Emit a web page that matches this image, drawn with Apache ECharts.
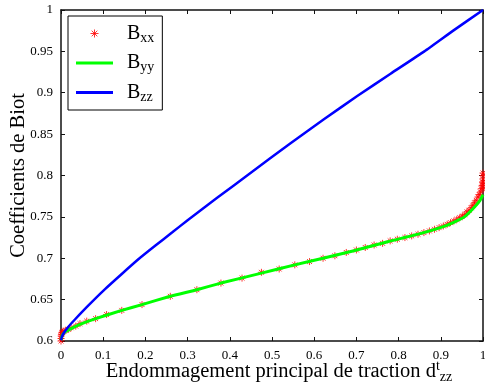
<!DOCTYPE html>
<html>

<head>
    <meta charset="UTF-8">
    <title>Coefficients de Biot</title>
    <script src="https://cdn.jsdelivr.net/npm/echarts@6/dist/echarts.min.js"></script>
    <style>
        html, body {
            margin: 0;
            padding: 0;
            background: #fff;
        }

        #chart {
            width: 485px;
            height: 391px;
        }
    </style>
</head>

<body>
    <div id="chart"></div>
</body>
<script>
    // Bxx (etoiles rouges)
    var dXX = [0, 0, 0.0005, 0.001, 0.002, 0.004, 0.007, 0.011, 0.017, 0.024, 0.035, 0.045, 0.061, 0.082,
        0.108, 0.144, 0.192, 0.259, 0.322, 0.379, 0.429, 0.475, 0.517, 0.554, 0.589, 0.621, 0.649, 0.676,
        0.700, 0.721, 0.742, 0.762, 0.780, 0.797, 0.815, 0.831, 0.846, 0.860, 0.873, 0.885, 0.896, 0.906,
        0.915, 0.923, 0.931, 0.938, 0.945, 0.951, 0.957, 0.962, 0.967, 0.972, 0.976, 0.980, 0.984, 0.988,
        0.991, 0.994, 0.996, 0.998, 0.999, 1, 1, 1, 1, 1, 1];
    var bxx = [0.600, 0.603, 0.606, 0.608, 0.610, 0.611, 0.612, 0.613, 0.614, 0.616, 0.618, 0.621, 0.624, 0.627,
        0.632, 0.637, 0.644, 0.654, 0.662, 0.670, 0.676, 0.683, 0.687, 0.692, 0.696, 0.700, 0.703, 0.707,
        0.710, 0.713, 0.716, 0.718, 0.721, 0.723, 0.725, 0.727, 0.729, 0.731, 0.733, 0.735, 0.737, 0.739,
        0.741, 0.743, 0.745, 0.747, 0.749, 0.751, 0.753, 0.756, 0.758, 0.761, 0.764, 0.767, 0.770, 0.774,
        0.777, 0.780, 0.784, 0.788, 0.792, 0.784, 0.788, 0.792, 0.796, 0.800, 0.803];

    // Byy (ligne verte)
    var dYY = [0, 0.003, 0.010, 0.024, 0.045, 0.082, 0.144, 0.192, 0.259, 0.322, 0.379, 0.475, 0.554,
        0.621, 0.694, 0.774, 0.853, 0.916, 0.956, 0.980, 0.993, 1];
    var byy = [0.601, 0.607, 0.611, 0.615, 0.620, 0.627, 0.637, 0.644, 0.654, 0.662, 0.670, 0.682, 0.692,
        0.700, 0.709, 0.720, 0.730, 0.740, 0.750, 0.762, 0.770, 0.777];

    // Bzz (ligne bleue)
    var dZZ = [0, 0.002, 0.007, 0.017, 0.033, 0.065, 0.105, 0.144, 0.184, 0.223, 0.263, 0.300, 0.370,
        0.449, 0.544, 0.623, 0.702, 0.781, 0.861, 0.932, 1];
    var bzz = [0.601, 0.605, 0.610, 0.617, 0.626, 0.643, 0.663, 0.681, 0.699, 0.715, 0.731, 0.746, 0.773,
        0.803, 0.839, 0.868, 0.896, 0.923, 0.950, 0.976, 1.0];

    function pairs(xs, ys) {
        var out = [];
        for (var i = 0; i < xs.length; i++) {
            out.push([xs[i], ys[i]]);
        }
        return out;
    }

    var starPath = 'path://M5,0L5,10M0,5L10,5M1.5,1.5L8.5,8.5M8.5,1.5L1.5,8.5';
    var barPath = 'path://M0,0L37,0L37,3L0,3Z';
    var serif = 'Liberation Serif';

    var subs = { Bxx: 'xx', Byy: 'yy', Bzz: 'zz' };

    var frameLine = { show: true, onZero: false, lineStyle: { color: '#111', width: 1.5 } };
    var frameTick = { show: true, inside: true, length: 4, lineStyle: { color: '#111', width: 1 } };
    var tickLabel = { color: '#000', fontFamily: serif, fontSize: 13 };

    var chart = echarts.init(document.getElementById('chart'));
    var option = {
        animation: false,
        backgroundColor: '#fff',
        grid: {
            left: 61,
            right: 2,
            top: 10,
            bottom: 50,
            outerBoundsMode: 'none',
            containLabel: false
        },
        legend: {
            left: 68,
            top: 16,
            orient: 'vertical',
            itemWidth: 37,
            itemHeight: 8,
            itemGap: 6.5,
            padding: [6, 8, 6, 8],
            borderColor: '#000',
            borderWidth: 1,
            backgroundColor: '#fff',
            symbolKeepAspect: true,
            data: [
                { name: 'Bxx', icon: starPath, itemStyle: { color: 'rgba(0,0,0,0)', borderColor: '#ff0000', borderWidth: 1 } },
                { name: 'Byy', icon: barPath, itemStyle: { color: '#00ff00', borderWidth: 0 } },
                { name: 'Bzz', icon: barPath, itemStyle: { color: '#0000ff', borderWidth: 0 } }
            ],
            formatter: function (name) {
                return '{b|B}{s|' + subs[name] + '}';
            },
            textStyle: {
                rich: {
                    b: { fontFamily: serif, fontSize: 20, color: '#000', lineHeight: 24, padding: [0, 0, 0, 9] },
                    s: { fontFamily: serif, fontSize: 14, color: '#000', lineHeight: 24, padding: [9, 0, 0, 0] }
                }
            }
        },
        xAxis: [{
            type: 'value',
            min: 0,
            max: 1,
            interval: 0.1,
            position: 'bottom',
            name: '{n|Endommagement principal de traction d}{sup|t}{sub|zz}',
            nameLocation: 'middle',
            nameGap: 18,
            nameMoveOverlap: false,
            nameTextStyle: {
                rich: {
                    n: { fontFamily: serif, fontSize: 20.5, color: '#000', lineHeight: 26 },
                    sup: { fontFamily: serif, fontSize: 14, color: '#000', lineHeight: 26, padding: [0, 0, 12, 0] },
                    sub: { fontFamily: serif, fontSize: 14, color: '#000', lineHeight: 26, padding: [10, 0, 0, 0] }
                },
                padding: [0, 0, 0, 14]
            },
            axisLine: frameLine,
            axisTick: frameTick,
            axisLabel: tickLabel,
            splitLine: { show: false }
        }, {
            type: 'value',
            min: 0,
            max: 1,
            interval: 0.1,
            position: 'top',
            axisLine: frameLine,
            axisTick: frameTick,
            axisLabel: { show: false },
            splitLine: { show: false }
        }],
        yAxis: [{
            type: 'value',
            min: 0.6,
            max: 1,
            interval: 0.05,
            position: 'left',
            name: 'Coefficients de Biot',
            nameLocation: 'middle',
            nameGap: 32,
            nameMoveOverlap: false,
            nameTextStyle: {
                fontFamily: serif,
                fontSize: 20.5,
                color: '#000'
            },
            axisLine: frameLine,
            axisTick: frameTick,
            axisLabel: tickLabel,
            splitLine: { show: false }
        }, {
            type: 'value',
            min: 0.6,
            max: 1,
            interval: 0.05,
            position: 'right',
            axisLine: frameLine,
            axisTick: frameTick,
            axisLabel: { show: false },
            splitLine: { show: false }
        }],
        series: [{
            name: 'Bxx',
            type: 'scatter',
            data: pairs(dXX, bxx),
            symbol: starPath,
            symbolSize: 7,
            clip: false,
            itemStyle: { color: 'rgba(0,0,0,0)', borderColor: '#ff0000', borderWidth: 1 },
            z: 2
        }, {
            name: 'Byy',
            type: 'line',
            data: pairs(dYY, byy),
            symbol: 'none',
            smooth: 0.15,
            lineStyle: { color: '#00ff00', width: 3 },
            itemStyle: { color: '#00ff00' },
            z: 3
        }, {
            name: 'Bzz',
            type: 'line',
            data: pairs(dZZ, bzz),
            symbol: 'none',
            smooth: 0.15,
            lineStyle: { color: '#0000ff', width: 2.5 },
            itemStyle: { color: '#0000ff' },
            z: 4
        }]
    };
    chart.setOption(option);
</script>

</html>
